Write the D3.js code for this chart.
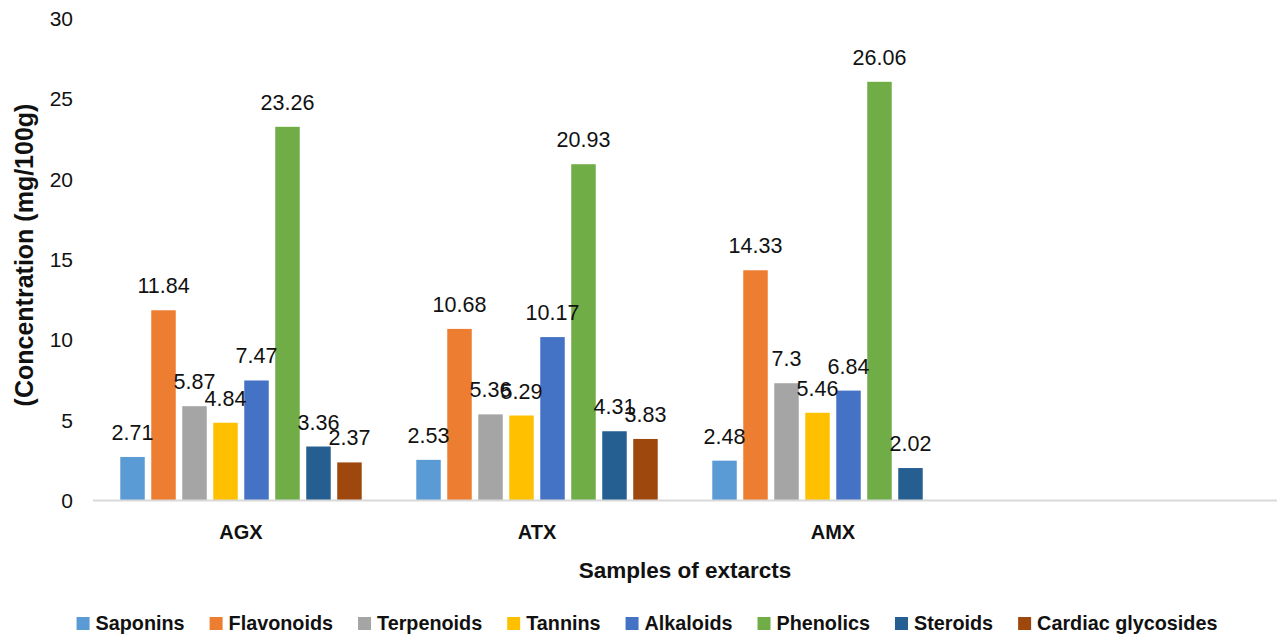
<!DOCTYPE html>
<html><head><meta charset="utf-8">
<script src="https://cdn.jsdelivr.net/npm/d3@7"></script>
<style>body{margin:0;background:#fff}svg{display:block}</style>
</head><body><svg id="c" width="1278" height="638"></svg>
<script>
const categories = ["AGX", "ATX", "AMX", ""];
const seriesNames = ["Saponins","Flavonoids","Terpenoids","Tannins","Alkaloids","Phenolics","Steroids","Cardiac glycosides"];
const seriesColors = ["#5B9BD5","#ED7D31","#A5A5A5","#FFC000","#4472C4","#70AD47","#255E91","#9E480E"];
const saponins   = [2.71, 2.53, 2.48, null];
const flavonoids = [11.84, 10.68, 14.33, null];
const terpenoids = [5.87, 5.36, 7.3, null];
const tannins    = [4.84, 5.29, 5.46, null];
const alkaloids  = [7.47, 10.17, 6.84, null];
const phenolics  = [23.26, 20.93, 26.06, null];
const steroids   = [3.36, 4.31, 2.02, null];
const cardiac    = [2.37, 3.83, null, null];
const yTicks = [0, 5, 10, 15, 20, 25, 30];
const yTitle = "(Concentration (mg/100g)";
const xTitle = "Samples of extarcts";

const values = [saponins, flavonoids, terpenoids, tannins, alkaloids, phenolics, steroids, cardiac];
const FONT = "'Liberation Sans', Arial, sans-serif";
const svg = d3.select("#c");

const x0 = d3.scaleBand().domain(categories).range([93, 1277]).padding(0);
const x1 = d3.scaleBand().domain(seriesNames).range([0, x0.bandwidth()]).paddingInner(0.21).paddingOuter(0.88);
const y = d3.scaleLinear().domain([0, 30]).range([500.5, 18.5]);

// y tick labels
svg.append("g").selectAll("text").data(yTicks).join("text")
  .attr("x", 73).attr("y", d => y(d)).attr("dy", "0.35em")
  .attr("text-anchor", "end").attr("font-family", FONT).attr("font-size", 21).attr("fill", "#111")
  .text(d => d);

// bars
const groups = svg.append("g").selectAll("g").data(categories).join("g")
  .attr("transform", d => `translate(${x0(d)},0)`);
groups.each(function(cat, ci) {
  const g = d3.select(this);
  const rows = seriesNames.map((s, si) => ({s, si, v: values[si][ci]})).filter(r => r.v != null);
  g.selectAll("rect").data(rows).join("rect")
    .attr("x", r => x1(r.s)).attr("width", x1.bandwidth())
    .attr("y", r => y(r.v)).attr("height", r => y(0) - y(r.v))
    .attr("fill", r => seriesColors[r.si]);
  g.selectAll("text").data(rows).join("text")
    .attr("x", r => x1(r.s) + x1.bandwidth() / 2).attr("y", r => y(r.v) - 17)
    .attr("text-anchor", "middle").attr("font-family", FONT).attr("font-size", 21.5).attr("fill", "#111")
    .text(r => r.v);
});

// x axis line
svg.append("line").attr("x1", 93).attr("x2", 1277).attr("y1", y(0)).attr("y2", y(0))
  .attr("stroke", "#d9d9d9").attr("stroke-width", 2);

// category labels
svg.append("g").selectAll("text").data(categories).join("text")
  .attr("x", d => x0(d) + x0.bandwidth() / 2).attr("y", 539)
  .attr("text-anchor", "middle").attr("font-family", FONT).attr("font-weight", "bold")
  .attr("font-size", 20).attr("fill", "#111").text(d => d);

// axis titles
svg.append("text").attr("x", 685).attr("y", 578).attr("text-anchor", "middle")
  .attr("font-family", FONT).attr("font-weight", "bold").attr("font-size", 22.5).attr("fill", "#111").text(xTitle);
svg.append("text").attr("transform", "translate(33,255) rotate(-90)").attr("text-anchor", "middle")
  .attr("font-family", FONT).attr("font-weight", "bold").attr("font-size", 25).attr("fill", "#111").text(yTitle);

// legend
const leg = svg.append("g");
const items = leg.selectAll("g").data(seriesNames).join("g");
items.append("rect").attr("width", 13).attr("height", 13).attr("y", -13).attr("fill", (d, i) => seriesColors[i]);
items.append("text").attr("x", 19).attr("font-family", FONT).attr("font-weight", "bold")
  .attr("font-size", 19.8).attr("fill", "#111").text(d => d);
let cx = 0;
const pos = [];
items.each(function() {
  const w = d3.select(this).select("text").node().getComputedTextLength();
  pos.push(cx); cx += 19 + w + 25;
});
const total = cx - 25;
const start = 647 - total / 2;
items.attr("transform", (d, i) => `translate(${start + pos[i]},630)`);
</script></body></html>
